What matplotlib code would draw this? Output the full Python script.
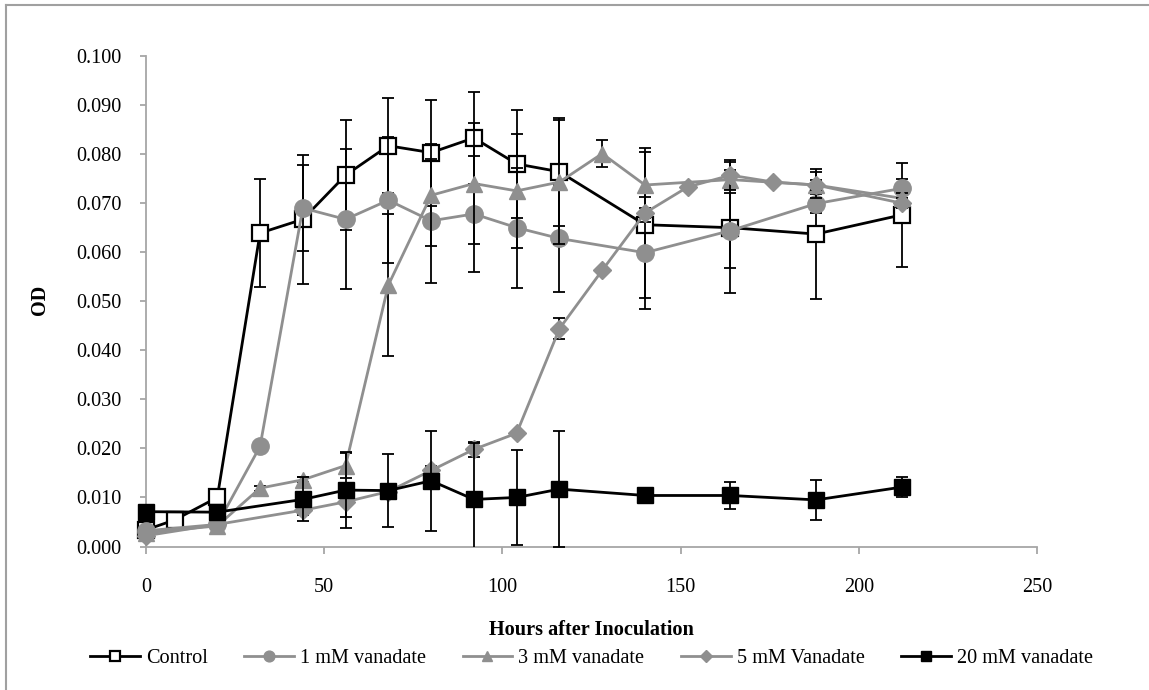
import matplotlib
matplotlib.use("Agg")
import matplotlib.pyplot as plt
from matplotlib.lines import Line2D
from matplotlib.ticker import FormatStrFormatter, MultipleLocator

plt.rcParams['font.family'] = ['Liberation Serif', 'DejaVu Serif']

# ---- data ----
t_control = [0, 8, 20, 32, 44, 56, 68, 80, 92, 104, 116, 140, 164, 188, 212]
od_control = [0.0034, 0.0054, 0.0100, 0.0639, 0.0667, 0.0757, 0.0817, 0.0803,
              0.0833, 0.0780, 0.0764, 0.0656, 0.0650, 0.0637, 0.0676]
err_control = [0, 0, 0, 0.0110, 0.0132, 0.0112, 0.0097, 0.0108,
               0.0094, 0.0110, 0.0110, 0.0149, 0.0134, 0.0132, 0.0106]

t_1mm = [0, 20, 32, 44, 56, 68, 80, 92, 104, 116, 140, 164, 188, 212]
od_1mm = [0.0032, 0.0045, 0.0204, 0.0690, 0.0667, 0.0706, 0.0664, 0.0678,
          0.0650, 0.0628, 0.0599, 0.0644, 0.0699, 0.0730]
err_1mm = [0, 0, 0.0005, 0.0087, 0.0143, 0.0129, 0.0126, 0.0118,
           0.0122, 0.0110, 0.0114, 0.0076, 0.0020, 0.0019]

t_3mm = [0, 20, 32, 44, 56, 68, 80, 92, 104, 116, 128, 140, 164, 188, 212]
od_3mm = [0.0028, 0.0042, 0.0119, 0.0136, 0.0165, 0.0533, 0.0716, 0.0740,
          0.0725, 0.0743, 0.0801, 0.0737, 0.0748, 0.0737, 0.0710]
err_3mm = [0, 0, 0.0005, 0.0005, 0.0025, 0.0144, 0.0104, 0.0124,
           0.0116, 0.0126, 0.0028, 0.0076, 0.0020, 0.0026, 0.0010]

t_5mm = [0, 20, 44, 56, 68, 80, 92, 104, 116, 128, 140, 152, 164, 176, 188, 212]
od_5mm = [0.0022, 0.0045, 0.0074, 0.0091, 0.0112, 0.0155, 0.0198, 0.0231,
          0.0444, 0.0563, 0.0680, 0.0733, 0.0757, 0.0743, 0.0737, 0.0700]
err_5mm = [0, 0, 0.0010, 0.0030, 0.0005, 0.0010, 0.0016, 0.0005,
           0.0021, 0.0005, 0.0010, 0.0005, 0.0030, 0.0005, 0.0010, 0.0010]

t_20mm = [0, 20, 44, 56, 68, 80, 92, 104, 116, 140, 164, 188, 212]
od_20mm = [0.0071, 0.0070, 0.0096, 0.0115, 0.0114, 0.0134, 0.0096, 0.0100,
           0.0117, 0.0104, 0.0104, 0.0095, 0.0121]
err_20mm = [0, 0, 0.0045, 0.0078, 0.0075, 0.0102, 0.0115, 0.0096,
            0.0118, 0.0008, 0.0027, 0.0041, 0.0020]

labels = ["Control", "1 mM vanadate", "3 mM vanadate", "5 mM Vanadate", "20 mM vanadate"]
x_ticks = [0, 50, 100, 150, 200, 250]

# ---- styles ----
GRAY = '#8f8f8f'
AXGRAY = '#a6a6a6'
series = [
    (t_control, od_control, err_control, dict(color='black', marker='s', ms=11.5, mfc='white', mec='black', mew=1.6)),
    (t_1mm, od_1mm, err_1mm, dict(color=GRAY, marker='o', ms=12.5, mfc=GRAY, mec=GRAY, mew=1)),
    (t_3mm, od_3mm, err_3mm, dict(color=GRAY, marker='^', ms=12, mfc=GRAY, mec=GRAY, mew=1)),
    (t_5mm, od_5mm, err_5mm, dict(color=GRAY, marker='D', ms=9.5, mfc=GRAY, mec=GRAY, mew=1)),
    (t_20mm, od_20mm, err_20mm, dict(color='black', marker='s', ms=11.5, mfc='black', mec='black', mew=1)),
]

fig = plt.figure(figsize=(11.49, 6.90), dpi=100)
ax = fig.add_axes([146/1149, 1-546.5/690, (1037-146)/1149, (546.5-56)/690])

FS = 14.6
handles = []
for i, (t, y, e, st) in enumerate(series):
    ax.errorbar(t, y, yerr=e, fmt='none', ecolor='black', elinewidth=1.3,
                capsize=4.5, capthick=1.3, zorder=2 + i * 2)
    ln, = ax.plot(t, y, lw=2.0, zorder=3 + i * 2, clip_on=False, **st)
    lst = dict(st)
    lst['ms'] = st['ms'] * 0.62
    handles.append(Line2D([], [], lw=2.0, **lst))

ax.set_xlim(0, 250)
ax.set_ylim(0, 0.100)
ax.yaxis.set_major_locator(MultipleLocator(0.010))
ax.yaxis.set_major_formatter(FormatStrFormatter('%.3f'))
ax.set_xticks(x_ticks)

for s in ['top', 'right']:
    ax.spines[s].set_visible(False)
for s in ['left', 'bottom']:
    ax.spines[s].set_color(AXGRAY)
    ax.spines[s].set_linewidth(1.3)
ax.tick_params(axis='both', colors=AXGRAY, labelcolor='black', width=1.3, labelsize=FS)
ax.tick_params(axis='y', length=4.5, pad=13)
ax.tick_params(axis='x', length=5, pad=18)

fig.text(591.5/1149, 1-630/690, "Hours after Inoculation", ha='center', va='center',
         fontsize=FS, fontweight='bold')
fig.text(40/1149, 1-300/690, "OD", ha='center', va='center', rotation=90,
         fontsize=FS, fontweight='bold')

fig.legend(handles, labels, loc='center', bbox_to_anchor=(591.5/1149, 1-658/690),
           ncol=5, frameon=False, fontsize=FS, handlelength=2.45, handletextpad=0.3,
           columnspacing=1.8, borderaxespad=0)

# outer chart border (top and left visible)
fig.add_artist(Line2D([6/1149, 6/1149], [0, 1-5/690], color='#a0a0a0', lw=1.5,
                      transform=fig.transFigure))
fig.add_artist(Line2D([6/1149, 1], [1-5/690, 1-5/690], color='#a0a0a0', lw=1.5,
                      transform=fig.transFigure))

fig.savefig("out.png", dpi=100)
